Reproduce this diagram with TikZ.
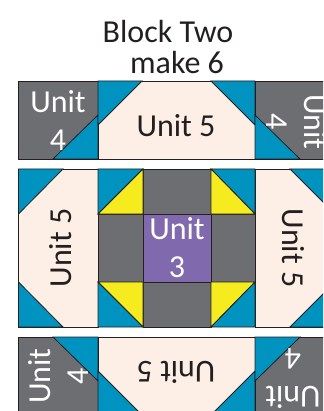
\documentclass[tikz,border=0pt]{standalone}
\usepackage{fontspec}
\setmainfont{Carlito}
\usepackage{xcolor}
\definecolor{gris}{HTML}{6D6E71}
\definecolor{azul}{HTML}{0093C0}
\definecolor{crema}{HTML}{FDEFE6}
\definecolor{amarillo}{HTML}{F5EB1E}
\definecolor{morado}{HTML}{8169AE}
\definecolor{tinta}{HTML}{231F20}
\newcommand{\grande}{\fontsize{32}{38}\selectfont}
\tikzset{
  pieza/.style    = {draw=tinta, line width=0.8pt, line join=miter},
  piezagris/.style = {pieza, fill=gris},
  piezaazul/.style = {pieza, fill=azul},
  piezacrema/.style = {pieza, fill=crema},
  piezaamar/.style = {pieza, fill=amarillo},
  piezamor/.style  = {pieza, fill=morado},
  claro/.style    = {text=white, font=\grande, align=center, inner sep=0pt},
  oscuro/.style   = {text=tinta, font=\grande, align=center, inner sep=0pt},
  titulo/.style   = {text=tinta, font=\fontsize{32}{38}\selectfont, inner sep=0pt},
}
\begin{document}
\begin{tikzpicture}[x=1pt,y=-1pt]
    \useasboundingbox (0,0) rectangle (323,411);
    \clip (0,0) rectangle (323,411);
    % --- titulo
    \node[titulo] (linea1) at (168,32) {Block Two};
    \node[titulo] (linea2) at (177,63) {make 6};

    % --- fila superior
    \draw[piezagris] (18.5,81) rectangle (98,159);
    \draw[piezaazul] (53,159) -- (98,115) -- (98,159) -- cycle;
    \draw[piezacrema] (98,81) rectangle (255,159);
    \draw[piezaazul] (98,81) -- (142,81) -- (98,125) -- cycle;
    \draw[piezaazul] (211,81) -- (255,81) -- (255,125) -- cycle;
    \draw[piezagris] (255,81) rectangle (340,159);
    \draw[piezaazul] (255,115) -- (300,159) -- (255,159) -- cycle;
    \node[claro] (u4a) at (58,120) {Unit\\4};
    \node[oscuro] (u5a) at (176,126) {Unit 5};
    \node[claro, rotate=-90] (u4b) at (297,122) {Unit\\4};

    % --- fila central, lados
    \draw[piezacrema] (18.5,169) rectangle (98,327);
    \draw[piezaazul] (18.5,169) -- (63,169) -- (18.5,214) -- cycle;
    \draw[piezaazul] (18.5,282) -- (63,327) -- (18.5,327) -- cycle;
    \draw[piezacrema] (255,169) rectangle (340,327);
    \draw[piezaazul] (290,169) -- (340,169) -- (340,219) -- cycle;
    \draw[piezaazul] (290,327) -- (340,277) -- (340,327) -- cycle;
    \node[oscuro, rotate=90] (u5b) at (61,248) {Unit 5};
    \node[oscuro, rotate=-90] (u5c) at (293,248) {Unit 5};

    % --- fila central, cuadros
    \draw[piezagris] (143,169) rectangle (211,214);
    \draw[piezagris] (98,214) rectangle (143,282);
    \draw[piezagris] (211,214) rectangle (255,282);
    \draw[piezagris] (143,282) rectangle (211,327);
    \draw[piezamor] (143,214) rectangle (211,282);
    \node[claro] (u3) at (177,248) {Unit\\3};
    \draw[piezaazul] (98,169) -- (143,169) -- (98,214) -- cycle;
    \draw[piezaamar] (143,169) -- (143,214) -- (98,214) -- cycle;
    \draw[piezaazul] (211,169) -- (255,169) -- (255,214) -- cycle;
    \draw[piezaamar] (211,169) -- (255,214) -- (211,214) -- cycle;
    \draw[piezaamar] (98,282) -- (143,282) -- (143,327) -- cycle;
    \draw[piezaazul] (98,282) -- (143,327) -- (98,327) -- cycle;
    \draw[piezaamar] (211,282) -- (255,282) -- (211,327) -- cycle;
    \draw[piezaazul] (255,282) -- (255,327) -- (211,327) -- cycle;

    % --- fila inferior
    \draw[piezagris] (18.5,337) rectangle (98,425);
    \draw[piezaazul] (53,337) -- (98,337) -- (98,381) -- cycle;
    \draw[piezacrema] (98,337) rectangle (255,425);
    \draw[piezaazul] (98,371) -- (152,425) -- (98,425) -- cycle;
    \draw[piezaazul] (255,371) -- (255,425) -- (201,425) -- cycle;
    \draw[piezagris] (255,337) rectangle (340,425);
    \draw[piezaazul] (255,337) -- (300,337) -- (255,381) -- cycle;
    \node[claro, rotate=90] (u4c) at (58,376) {Unit\\4};
    \node[oscuro, rotate=180] (u5d) at (176,372) {Unit 5};
    \node[claro, rotate=180] (u4d) at (293,379) {Unit\\4};
\end{tikzpicture}
\end{document}
